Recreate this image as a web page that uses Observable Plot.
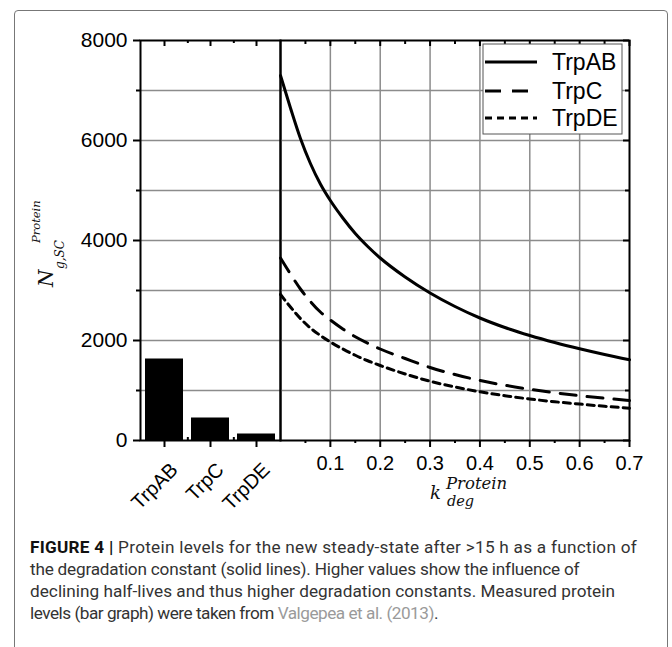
<!DOCTYPE html>
<html><head><meta charset="utf-8">
<script src="https://cdn.jsdelivr.net/npm/d3@7"></script>
<script src="https://cdn.jsdelivr.net/npm/@observablehq/plot@0.6"></script>
<style>
body{margin:0;background:#fff;}
#wrap{position:relative;width:672px;height:647px;overflow:hidden;background:#fff;}
#border{position:absolute;left:14px;top:10px;width:654px;height:720px;border:1.5px solid #777;border-radius:4px;box-sizing:border-box;}
.layer{position:absolute;left:0;top:0;}
#caption{position:absolute;left:0;top:530px;}
</style></head><body>
<div id="wrap"><div id="border"></div><div id="left" class="layer"></div><div id="right" class="layer"></div><svg id="caption" width="672" height="117"></svg></div>
<script>
// ---- data ----
const categories = ["TrpAB", "TrpC", "TrpDE"];
const measured = [1630, 450, 130];
const kdeg  = [0, 0.02, 0.04, 0.06, 0.08, 0.1, 0.125, 0.15, 0.175, 0.2, 0.25, 0.3, 0.35, 0.4, 0.45, 0.5, 0.55, 0.6, 0.65, 0.7];
const trpAB = [7300, 6650, 6040, 5540, 5130, 4800, 4450, 4140, 3880, 3650, 3270, 2950, 2680, 2450, 2260, 2100, 1960, 1835, 1720, 1615];
const trpC  = [3650, 3330, 3030, 2780, 2570, 2410, 2230, 2075, 1945, 1830, 1640, 1460, 1320, 1200, 1105, 1025, 955, 895, 845, 800];
const trpDE = [2920, 2670, 2440, 2250, 2100, 1970, 1830, 1705, 1595, 1500, 1330, 1185, 1070, 975, 895, 830, 775, 728, 685, 645];
const seriesNames = ["TrpAB", "TrpC", "TrpDE"];
const yMajor = [0, 2000, 4000, 6000, 8000];
const yMinor = [1000, 3000, 5000, 7000];
const yGrid = [1000, 2000, 3000, 4000, 5000, 6000, 7000];
const xMajor = [0.1, 0.2, 0.3, 0.4, 0.5, 0.6, 0.7];
const xMinor = [0.05, 0.15, 0.25, 0.35, 0.45, 0.55, 0.65];
const xGrid = [0.1, 0.2, 0.3, 0.4, 0.5, 0.6];

// ---- layout / style ----
const W = 672, H = 530, T = 40, B = 440, LX = 140, DX = 280, RX = 629;
const PH = B - T;
const dashes = [null, "16,11", "7,5"];
const gridStyle = {stroke: "#8c8c8c", strokeOpacity: 1, strokeWidth: 1.5};
const baseStyle = {fontFamily: "'Liberation Sans', Arial, sans-serif", fontSize: "20px", color: "black", background: "transparent", overflow: "visible"};

const bars = categories.map((c, i) => ({c, v: measured[i]}));
const step = (DX - LX) / categories.length;

const left = Plot.plot({
  width: W, height: H,
  marginLeft: LX, marginRight: W - DX, marginTop: T, marginBottom: H - B,
  style: baseStyle,
  x: {type: "band", domain: categories, paddingInner: 0.18, paddingOuter: 0.09, axis: null},
  y: {domain: [0, 8000], axis: null},
  marks: [
    Plot.gridY(yGrid, gridStyle),
    Plot.barY(bars, {x: "c", y: "v", fill: "black"}),
    Plot.frame({stroke: "black", strokeWidth: 2}),
    Plot.axisY({ticks: yMajor, anchor: "left", label: null, tickSize: 7, tickPadding: 6, strokeWidth: 2, fontSize: 21, tickFormat: d => String(d)}),
    Plot.axisY({ticks: yMinor, anchor: "left", label: null, tickSize: 4, strokeWidth: 2, tickFormat: () => ""}),
    Plot.axisX({ticks: categories, anchor: "bottom", label: null, tickSize: 7, strokeWidth: 2, tickFormat: () => ""}),
    Plot.axisX({ticks: categories, anchor: "bottom", label: null, tickSize: 0, tickPadding: 11, strokeOpacity: 0, tickRotate: -45, fontSize: 20, dx: 10, dy: 15}),
    Plot.ruleX(categories, {x: d => d, insetBottom: PH - 6, strokeWidth: 2}),
    Plot.ruleX(categories.slice(0, 2), {x: d => d, dx: step / 2, insetBottom: PH - 3, strokeWidth: 2}),
    Plot.ruleX(categories.slice(0, 2), {x: d => d, dx: step / 2, insetTop: PH - 3, strokeWidth: 2})
  ]
});
document.getElementById("left").appendChild(left);

const lineData = [];
[trpAB, trpC, trpDE].forEach((arr, j) => kdeg.forEach((k, i) => lineData.push({s: seriesNames[j], k, v: arr[i]})));

const right = Plot.plot({
  width: W, height: H,
  marginLeft: DX, marginRight: W - RX, marginTop: T, marginBottom: H - B,
  style: baseStyle,
  x: {domain: [0, 0.7], axis: null},
  y: {domain: [0, 8000], axis: null},
  marks: [
    Plot.gridY(yGrid, gridStyle),
    Plot.gridX(xGrid, gridStyle),
    ...seriesNames.map((s, j) => Plot.line(lineData.filter(d => d.s === s), {
      x: "k", y: "v", stroke: "black", strokeWidth: 3, curve: "monotone-x",
      strokeDasharray: dashes[j] || undefined
    })),
    Plot.frame({stroke: "black", strokeWidth: 2}),
    Plot.axisX({ticks: xMajor, anchor: "bottom", label: null, tickSize: 7, tickPadding: 8, strokeWidth: 2, fontSize: 20, tickFormat: d => d.toFixed(1)}),
    Plot.axisX({ticks: xMinor, anchor: "bottom", label: null, tickSize: 3, strokeWidth: 2, tickFormat: () => ""}),
    Plot.ruleX(xMajor, {insetBottom: PH - 6, strokeWidth: 2}),
    Plot.ruleX(xMinor, {insetBottom: PH - 4, strokeWidth: 2}),
    Plot.ruleY(yMajor, {insetLeft: (RX - DX) - 6, strokeWidth: 2}),
    Plot.ruleY(yMinor, {insetLeft: (RX - DX) - 4, strokeWidth: 2})
  ]
});
document.getElementById("right").appendChild(right);

// ---- legend ----
const rs = d3.select(right);
const lg = rs.append("g").attr("text-anchor", "start");
lg.append("rect").attr("x", 483).attr("y", 44).attr("width", 139).attr("height", 90)
  .attr("fill", "white").attr("stroke", "#555").attr("stroke-width", 1);
const legY = [62, 91, 118];
seriesNames.forEach((s, j) => {
  lg.append("line").attr("x1", 485).attr("x2", 537).attr("y1", legY[j]).attr("y2", legY[j])
    .attr("stroke", "black").attr("stroke-width", 3.2).attr("stroke-dasharray", dashes[j]);
  lg.append("text").attr("x", 552).attr("y", legY[j] + 8).attr("font-size", 23)
    .attr("fill", "black").attr("text-anchor", "start")
    .attr("font-family", "'Liberation Sans', Arial, sans-serif").text(s);
});

// ---- axis labels ----
const xl = rs.append("text").attr("text-anchor", "start").attr("font-family", "'DejaVu Serif', serif").attr("font-style", "italic").attr("fill", "#111");
xl.append("tspan").attr("x", 430).attr("y", 499).attr("font-size", 18).text("k");
xl.append("tspan").attr("x", 446).attr("y", 489).attr("font-size", 16.5).text("Protein");
xl.append("tspan").attr("x", 447).attr("y", 506).attr("font-size", 14.5).text("deg");

const ls = d3.select(left);
const yl = ls.append("text").attr("transform", "translate(53,287) rotate(-90)").attr("text-anchor", "start")
  .attr("font-family", "'DejaVu Serif', serif").attr("font-style", "italic").attr("fill", "#111");
yl.append("tspan").attr("x", 0).attr("y", 0).attr("font-size", 20).text("N");
yl.append("tspan").attr("x", 18).attr("y", 11).attr("font-size", 12).text("g,SC");
yl.append("tspan").attr("x", 44).attr("y", -13).attr("font-size", 11.5).text("Protein");

// ---- caption ----
const captionLines = [
  [{t: "FIGURE 4 |", b: true}, {t: " Protein levels for the new steady-state after >15 h as a function of"}],
  [{t: "the degradation constant (solid lines). Higher values show the influence of"}],
  [{t: "declining half-lives and thus higher degradation constants. Measured protein"}],
  [{t: "levels (bar graph) were taken from "}, {t: "Valgepea et al. (2013)", link: true}, {t: "."}]
];
const captionEnds = [637, 579, 615, 438];
const cs = d3.select("#caption");
captionLines.forEach((segs, i) => {
  const tx = cs.append("text").attr("x", 30).attr("y", 23 + i * 22).attr("text-anchor", "start")
    .attr("font-family", "'Liberation Sans Narrow', Roboto, sans-serif").attr("font-size", 17.2)
    .attr("fill", "#333").style("white-space", "pre");
  segs.forEach(sg => {
    const ts = tx.append("tspan").text(sg.t);
    if (sg.b) ts.attr("font-weight", "bold").attr("fill", "#111");
    if (sg.link) ts.attr("fill", "#9a9a9a");
  });
  const w0 = tx.node().getComputedTextLength();
  const n = segs.reduce((a, sg) => a + sg.t.length, 0);
  tx.attr("letter-spacing", ((captionEnds[i] - 30) - w0) / n);
});
</script>
</body></html>
